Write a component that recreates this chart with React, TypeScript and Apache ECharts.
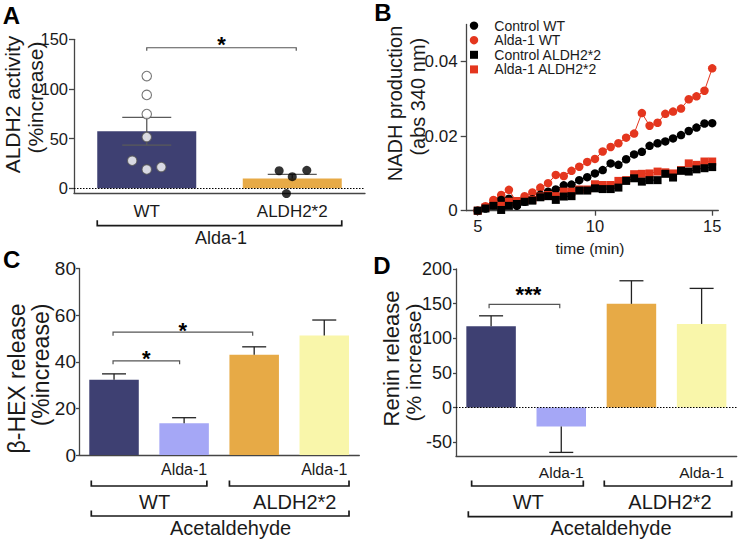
import React, { useEffect, useRef } from 'react';
import * as echarts from 'echarts';

const FONT = "'Liberation Sans', Arial, Helvetica, sans-serif";
const TXT = '#1a1a1a';
const AXIS = '#454545';
const NAVY = '#3e4072';
const LAVENDER = '#a5a7f6';
const ORANGE = '#e7aa46';
const YELLOW = '#f9f6aa';
const RED = '#e4361e';

// ---------------- Panel A ----------------
const aCategories = ['WT', 'ALDH2*2'];
const aMeans = [57.5, 10];
const aSem = [14, 4];
const aBothSides = [true, false];
const aYTicks = [0, 50, 100, 150];
const aWtX = [0, 0, 0, 0, -0.1, 0, 0.1];
const aWtY = [113, 94, 74.7, 51.6, 27.8, 19, 21.4];
const aMutX = [0.91, 1.1, 1.0, 0.96];
const aMutY = [17.7, 18.1, 11.7, -5.3];

// ---------------- Panel B ----------------
const bTime = [5, 5.33, 5.67, 6, 6.33, 6.67, 7, 7.33, 7.67, 8, 8.33, 8.67, 9, 9.33, 9.67, 10,
  10.33, 10.67, 11, 11.33, 11.67, 12, 12.33, 12.67, 13, 13.33, 13.67, 14, 14.33, 14.67, 15];
const bControlWT = [0, 0.0006, 0.0015, 0.0029, 0.0032, 0.0013, 0.0024, 0.0031, 0.0043, 0.0051, 0.0057,
  0.0068, 0.007, 0.0082, 0.009, 0.01, 0.0109, 0.0127, 0.0123, 0.0138, 0.0151, 0.0158, 0.0174,
  0.0181, 0.0186, 0.0194, 0.0203, 0.0214, 0.0223, 0.0234, 0.0235];
const bAldaWT = [0, 0.0012, 0.0029, 0.0042, 0.0056, 0.0022, 0.0039, 0.0049, 0.0062, 0.0074, 0.0096,
  0.0093, 0.0107, 0.0118, 0.0131, 0.0139, 0.0159, 0.0171, 0.0181, 0.0196, 0.0207, 0.0262, 0.0228,
  0.0236, 0.026, 0.0266, 0.0274, 0.0299, 0.0307, 0.0322, 0.0382];
const bControlMut = [0, 0.0006, 0.0013, 0.0002, 0.0013, 0.0018, 0.0024, 0.0027, 0.0036, 0.0039, 0.0029,
  0.0038, 0.0039, 0.0054, 0.0054, 0.006, 0.0058, 0.0058, 0.0062, 0.008, 0.0087, 0.0078, 0.0082,
  0.0082, 0.0099, 0.0089, 0.0107, 0.0105, 0.0111, 0.0114, 0.0117];
const bAldaMut = [0, 0.0009, 0.002, 0.0013, 0.0024, 0.0026, 0.0029, 0.0029, 0.0038, 0.0042, 0.0039,
  0.0051, 0.0051, 0.0057, 0.0057, 0.0071, 0.0069, 0.0069, 0.008, 0.0082, 0.0098, 0.0099, 0.01,
  0.0105, 0.0103, 0.01, 0.0109, 0.0127, 0.0123, 0.0132, 0.0132];
const bXTicks = [5, 10, 15];
const bYTicks = [0, 0.02, 0.04];
const bLegend = ['Control WT', 'Alda-1 WT', 'Control ALDH2*2', 'Alda-1 ALDH2*2'];

// ---------------- Panels C & D ----------------
const cdCategories = ['WT', 'WT + Alda-1', 'ALDH2*2', 'ALDH2*2 + Alda-1'];
const cdTickLabels = ['', 'Alda-1', '', 'Alda-1'];
const cdColors = [NAVY, LAVENDER, ORANGE, YELLOW];
const cMeans = [32.3, 13.6, 43, 51.3];
const cSem = [2.5, 2.4, 3.4, 6.6];
const cYTicks = [0, 20, 40, 60, 80];
const dMeans = [117.4, -27.5, 149.7, 120.7];
const dSem = [15, 37.3, 33.3, 51.3];
const dYTicks = [-50, 0, 50, 100, 150, 200];

// significance brackets (data units)
const sigBrackets = [
  { xi: 0, yi: 0, from: 0, to: 1, y: 141.5, label: '*' },
  { xi: 3, yi: 2, from: 0, to: 1, y: 40.4, label: '*' },
  { xi: 3, yi: 2, from: 0, to: 2, y: 52.7, label: '*' },
  { xi: 4, yi: 3, from: 0, to: 1, y: 149, label: '***' },
];
// layout tweaks for them (pixels)
const sigLayout = [
  { dx1: 0, dx2: 4, tick: 3, ldx: 0, ldy: 8.6 },
  { dx1: -1, dx2: -4.5, tick: 3.5, ldx: 0, ldy: 7.4 },
  { dx1: -1, dx2: -1.5, tick: 3.5, ldx: 0, ldy: 7 },
  { dx1: -2, dx2: -1.5, tick: 4, ldx: 4, ldy: 14.6 },
];

// group brackets under the axes
const groupBrackets = [
  { xi: 0, yi: 0, base: -5, from: 0, to: 1, label: 'Alda-1' },
  { xi: 3, yi: 2, base: 0, from: 0, to: 1, label: 'WT' },
  { xi: 3, yi: 2, base: 0, from: 2, to: 3, label: 'ALDH2*2' },
  { xi: 3, yi: 2, base: 0, from: 0, to: 3, label: 'Acetaldehyde' },
  { xi: 4, yi: 3, base: -70, from: 0, to: 1, label: 'WT' },
  { xi: 4, yi: 3, base: -70, from: 2, to: 3, label: 'ALDH2*2' },
  { xi: 4, yi: 3, base: -70, from: 0, to: 3, label: 'Acetaldehyde' },
];
const groupLayout = [
  { bw: 99, dx1: 0, dx2: 0, dy: 32.4, ldx: 1.5, ldy: 44.8, fs: 18 },
  { bw: 49.5, dx1: 2, dx2: -2, dy: 31, ldx: 5.5, ldy: 46.5, fs: 20 },
  { bw: 49.5, dx1: 0, dx2: 0, dy: 31, ldx: 5.5, ldy: 46.5, fs: 20 },
  { bw: 49.5, dx1: 2, dx2: 0, dy: 61, ldx: 10.4, ldy: 73, fs: 20 },
  { bw: 49.5, dx1: 5.3, dx2: -2.7, dy: 30, ldx: 0.8, ldy: 45.7, fs: 20 },
  { bw: 49.5, dx1: -2.4, dx2: 5.3, dy: 30, ldx: 2, ldy: 45.7, fs: 20 },
  { bw: 49.5, dx1: 2, dx2: 5.3, dy: 60.7, ldx: 11, ldy: 72.3, fs: 20 },
];

function valueYAxis(gridIndex: number, min: number, max: number, ticks: number[], fontSize: number, margin: number, tickLen: number) {
  return {
    type: 'value', gridIndex, min, max,
    axisLine: { show: true, onZero: false, lineStyle: { color: AXIS, width: 1.3 } },
    axisTick: { show: true, length: tickLen, customValues: ticks, lineStyle: { color: AXIS, width: 1.3 } },
    axisLabel: { customValues: ticks, fontSize, margin, color: TXT, fontFamily: FONT },
    splitLine: { show: false },
  };
}

function catXAxis(gridIndex: number, data: string[], labels: string[], fontSize: number, margin: number) {
  return {
    type: 'category', gridIndex, data,
    axisLine: { show: true, onZero: false, lineStyle: { color: AXIS, width: 1.3 } },
    axisTick: { show: false },
    axisLabel: { interval: 0, fontSize, margin, color: TXT, fontFamily: FONT, formatter: (_v: string, i: number) => labels[i] },
    splitLine: { show: false },
  };
}

function errorSeries(xi: number, yi: number, means: number[], sems: number[], both: boolean[], cap: number, color: string) {
  const data = means.map((m, i) => {
    const dir = m < 0 ? -1 : 1;
    return [i, both[i] ? m - dir * sems[i] : m, m + dir * sems[i], both[i] ? 1 : 0];
  });
  return {
    type: 'custom', xAxisIndex: xi, yAxisIndex: yi, z: 4, silent: true,
    encode: { x: 0, y: [1, 2] },
    data,
    renderItem: (_p: any, api: any) => {
      const x = api.value(0);
      const a = api.coord([x, api.value(1)]);
      const b = api.coord([x, api.value(2)]);
      const st = { stroke: color, lineWidth: 1.3 };
      const ch: any[] = [
        { type: 'line', shape: { x1: a[0], y1: a[1], x2: b[0], y2: b[1] }, style: st },
        { type: 'line', shape: { x1: b[0] - cap / 2, y1: b[1], x2: b[0] + cap / 2, y2: b[1] }, style: st },
      ];
      if (api.value(3)) ch.push({ type: 'line', shape: { x1: a[0] - cap / 2, y1: a[1], x2: a[0] + cap / 2, y2: a[1] }, style: st });
      return { type: 'group', children: ch };
    },
  };
}

const zeroLine = {
  silent: true, symbol: 'none', label: { show: false },
  lineStyle: { type: [1.5, 1.5], color: '#000', width: 1.2 },
  data: [{ yAxis: 0 }],
};

function buildOption() {
  const zip = (xs: number[], ys: number[]) => xs.map((x, i) => [x, ys[i]]);
  const lineSeries = (name: string, ys: number[], color: string, symbol: string) => ({
    name, type: 'line', xAxisIndex: 2, yAxisIndex: 1, data: zip(bTime, ys),
    symbol, symbolSize: symbol === 'circle' ? 8.5 : 8, showSymbol: true,
    itemStyle: { color }, lineStyle: { color, width: 1 }, z: 3,
  });
  return {
    animation: false,
    backgroundColor: '#ffffff',
    textStyle: { fontFamily: FONT },
    grid: [
      { left: 74, top: 39.3, width: 291, height: 154, outerBoundsMode: 'none' },
      { left: 466.7, top: 24.4, width: 251.6, height: 186.3, outerBoundsMode: 'none' },
      { left: 79, top: 268.5, width: 280.3, height: 186.5, outerBoundsMode: 'none' },
      { left: 456, top: 269, width: 280.7, height: 187, outerBoundsMode: 'none' },
    ],
    xAxis: [
      catXAxis(0, aCategories, aCategories, 17, 10),
      { type: 'value', gridIndex: 0, min: -0.5, max: 1.5, show: false },
      {
        type: 'value', gridIndex: 1, min: 4.53, max: 15.26,
        axisLine: { show: true, onZero: false, lineStyle: { color: AXIS, width: 1.3 } },
        axisTick: { show: true, length: 5, customValues: bXTicks, lineStyle: { color: AXIS, width: 1.3 } },
        axisLabel: { customValues: bXTicks, fontSize: 16.5, margin: 7, color: TXT, fontFamily: FONT },
        splitLine: { show: false },
      },
      catXAxis(2, cdCategories, cdTickLabels, 16, 6),
      catXAxis(3, cdCategories, cdTickLabels, 15.5, 8),
    ],
    yAxis: [
      valueYAxis(0, -5, 150, aYTicks, 16.5, 6, 5),
      valueYAxis(1, 0, 0.05, bYTicks, 17, 9, 6),
      valueYAxis(2, 0, 80, cYTicks, 19, 3, 3),
      valueYAxis(3, -70, 200, dYTicks, 18, 4, 3),
    ],
    series: [
      // Panel A
      {
        type: 'bar', xAxisIndex: 0, yAxisIndex: 0, barWidth: 99, z: 2,
        data: aMeans.map((v, i) => ({ value: v, itemStyle: { color: i === 0 ? NAVY : ORANGE } })),
        markLine: zeroLine,
      },
      errorSeries(0, 0, aMeans, aSem, aBothSides, 49, '#5a5a5a'),
      {
        type: 'scatter', xAxisIndex: 1, yAxisIndex: 0, data: zip(aWtX, aWtY), symbol: 'circle', symbolSize: 9.5, z: 6,
        itemStyle: { color: '#ffffff', borderColor: '#555', borderWidth: 1.1 }, clip: false,
      },
      {
        type: 'scatter', xAxisIndex: 1, yAxisIndex: 0, data: zip(aMutX, aMutY), symbol: 'circle', symbolSize: 9, z: 6,
        itemStyle: { color: '#000000' }, clip: false,
      },
      // Panel B
      lineSeries(bLegend[1], bAldaWT, RED, 'circle'),
      lineSeries(bLegend[0], bControlWT, '#000000', 'circle'),
      lineSeries(bLegend[3], bAldaMut, RED, 'rect'),
      lineSeries(bLegend[2], bControlMut, '#000000', 'rect'),
      // Panel C
      {
        type: 'bar', xAxisIndex: 3, yAxisIndex: 2, barWidth: 49.5, z: 2,
        data: cMeans.map((v, i) => ({ value: v, itemStyle: { color: cdColors[i] } })),
      },
      errorSeries(3, 2, cMeans, cSem, [false, false, false, false], 24, '#222'),
      // Panel D
      {
        type: 'bar', xAxisIndex: 4, yAxisIndex: 3, barWidth: 49.5, z: 2,
        data: dMeans.map((v, i) => ({ value: v, itemStyle: { color: cdColors[i] } })),
        markLine: zeroLine,
      },
      errorSeries(4, 3, dMeans, dSem, [false, false, false, false], 24, '#222'),
    ],
  };
}

function buildGraphic(chart: any) {
  const px = (xi: number, yi: number, x: number, y: number): number[] =>
    chart.convertToPixel({ xAxisIndex: xi, yAxisIndex: yi }, [x, y]);
  const els: any[] = [];
  const text = (t: string, x: number, y: number, fs: number, extra: any = {}) => ({
    type: 'text', x, y, silent: true, z: 20,
    style: { text: t, fontSize: fs, fontFamily: FONT, fill: TXT, textAlign: 'center', textVerticalAlign: 'middle', ...extra.style },
    ...(extra.rotation !== undefined ? { rotation: extra.rotation } : {}),
  });

  // panel letters
  [['A', 11.5, 15], ['B', 383, 12], ['C', 11.7, 259.5], ['D', 382, 265]].forEach(([t, x, y]) => {
    els.push(text(t as string, x as number, y as number, 24, { style: { fontWeight: 'bold', fill: '#000', lineHeight: 20 } }));
  });

  // rotated axis titles
  const R = Math.PI / 2;
  els.push(text('ALDH2 activity', 12, 104.5, 21, { rotation: R }));
  els.push(text('(%increase)', 35, 97.5, 21, { rotation: R }));
  els.push(text('NADH production', 395, 103.5, 20, { rotation: R }));
  els.push(text('(abs 340 nm)', 417.5, 96.7, 20, { rotation: R }));
  els.push(text('β-HEX release', 17, 378.5, 23, { rotation: R }));
  els.push(text('(%increase)', 40.5, 365, 23, { rotation: R }));
  els.push(text('Renin release', 391, 358.5, 22, { rotation: R }));
  els.push(text('(% increase)', 413, 362.5, 21, { rotation: R }));
  els.push(text('time (min)', 590, 248.5, 15.5));

  // legend of panel B
  const legendMarkers = [
    { shape: 'circle', color: '#000' },
    { shape: 'circle', color: RED },
    { shape: 'rect', color: '#000' },
    { shape: 'rect', color: RED },
  ];
  const legendRows = [25.6, 40.2, 54.8, 69.4];
  bLegend.forEach((name, i) => {
    const m = legendMarkers[i];
    const y = legendRows[i];
    if (m.shape === 'circle') {
      els.push({ type: 'circle', shape: { cx: 474, cy: y, r: 4.2 }, style: { fill: m.color }, z: 20 });
    } else {
      els.push({ type: 'rect', shape: { x: 470, y: y - 4, width: 8, height: 8 }, style: { fill: m.color }, z: 20 });
    }
    els.push(text(name, 494.3, y, 14, { style: { textAlign: 'left', lineHeight: 13 } }));
  });

  // significance brackets
  sigBrackets.forEach((s, i) => {
    const L = sigLayout[i];
    const p1 = px(s.xi, s.yi, s.from, s.y);
    const p2 = px(s.xi, s.yi, s.to, s.y);
    const x1 = p1[0] + L.dx1;
    const x2 = p2[0] + L.dx2;
    const y = p1[1];
    els.push({
      type: 'polyline', silent: true, z: 20,
      shape: { points: [[x1, y + L.tick], [x1, y], [x2, y], [x2, y + L.tick]] },
      style: { stroke: '#555', lineWidth: 1.2, fill: 'none' },
    });
    els.push(text(s.label, (x1 + x2) / 2 + L.ldx, y - L.ldy + 5, 22, { style: { fontWeight: 'bold', fill: '#000' } }));
  });

  // group brackets
  groupBrackets.forEach((g, i) => {
    const L = groupLayout[i];
    const pa = px(g.xi, g.yi, g.from, g.base);
    const pb = px(g.xi, g.yi, g.to, g.base);
    const x1 = pa[0] - L.bw / 2 + L.dx1;
    const x2 = pb[0] + L.bw / 2 + L.dx2;
    const y = pa[1] + L.dy;
    els.push({
      type: 'polyline', silent: true, z: 20,
      shape: { points: [[x1, y - 5.5], [x1, y], [x2, y], [x2, y - 5.5]] },
      style: { stroke: '#1a1a1a', lineWidth: 1.7, fill: 'none' },
    });
    els.push(text(g.label, (x1 + x2) / 2 + L.ldx, pa[1] + L.ldy, L.fs));
  });

  return els;
}

export default function App() {
  const ref = useRef<HTMLDivElement>(null);
  useEffect(() => {
    if (!ref.current) return;
    const chart = echarts.init(ref.current, null, { renderer: 'svg' });
    chart.setOption(buildOption() as any);
    chart.setOption({ graphic: buildGraphic(chart) } as any);
    return () => chart.dispose();
  }, []);
  return (
    <div
      ref={ref}
      style={{ position: 'fixed', left: 0, top: 0, width: 740, height: 549, background: '#ffffff' }}
    />
  );
}
